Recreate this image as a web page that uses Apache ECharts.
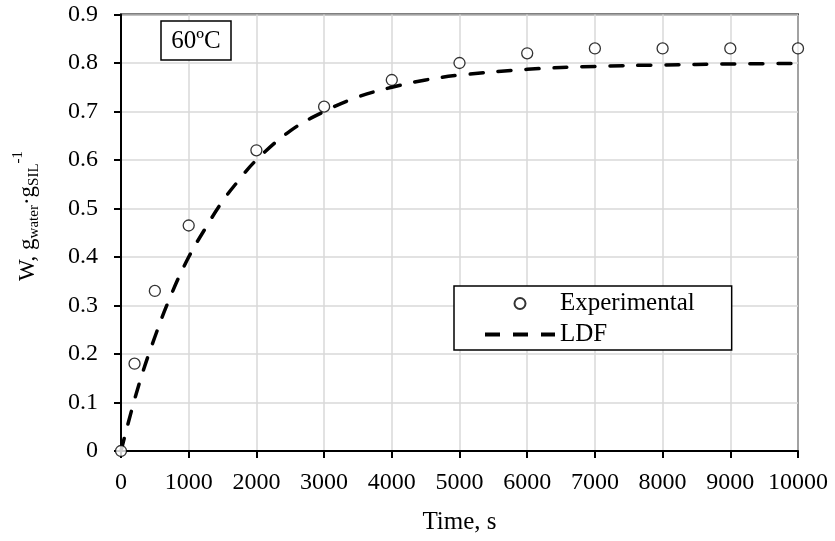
<!DOCTYPE html>
<html>
<head>
<meta charset="utf-8">
<script src="https://cdn.jsdelivr.net/npm/echarts@6/dist/echarts.min.js"></script>
<style>html,body{margin:0;padding:0;background:#fff}#c{width:835px;height:541px}</style>
</head>
<body>
<div id="c"></div>
<script>
// Experimental data
const expTime = [0, 200, 500, 1000, 2000, 3000, 4000, 5000, 6000, 7000, 8000, 9000, 10000];
const expW    = [0, 0.18, 0.33, 0.465, 0.62, 0.71, 0.765, 0.80, 0.82, 0.83, 0.83, 0.83, 0.83];
// LDF model curve
const ldfTime = [0, 250, 500, 750, 1000, 1250, 1500, 1750, 2000, 2500, 3000, 3500, 4000, 4500, 5000, 6000, 7000, 8000, 9000, 10000];
const ldfW    = [0, 0.13, 0.235, 0.325, 0.40, 0.46, 0.515, 0.56, 0.60, 0.66, 0.70, 0.73, 0.75, 0.765, 0.775, 0.787, 0.793, 0.796, 0.798, 0.799];
const xTicks = [0, 10000, 1000];
const yTicks = [0, 0.9, 0.1];
const seriesNames = ['Experimental', 'LDF'];
const tempLabel = '60ºC';

const FONT = '"Liberation Serif", "Times New Roman", serif';
const chart = echarts.init(document.getElementById('c'));

function measure(t, size) {
  const cv = document.createElement('canvas').getContext('2d');
  cv.font = size + 'px ' + FONT;
  return cv.measureText(t).width;
}
// y-axis title pieces
const parts = [
  {t: 'W, g', s: 23, dy: 0},
  {t: 'water', s: 15, dy: 6},
  {t: '·g', s: 23, dy: 0},
  {t: 'SIL', s: 15, dy: 6},
  {t: '-1', s: 15, dy: -10}
];
let off = 0;
const titleChildren = parts.map(p => {
  const el = {type: 'text', x: off, y: p.dy, style: {text: p.t, font: p.s + 'px ' + FONT, fill: '#000', textVerticalAlign: 'middle', verticalAlign: 'middle'}};
  off += measure(p.t, p.s);
  return el;
});

const option = {
  animation: false,
  backgroundColor: '#fff',
  grid: {left: 121, right: 37, top: 14.5, bottom: 90, show: true, borderColor: '#000', borderWidth: 2, backgroundColor: 'transparent'},
  xAxis: {
    type: 'value', min: xTicks[0], max: xTicks[1], interval: xTicks[2],
    name: 'Time, s', nameLocation: 'middle', nameGap: 59,
    nameTextStyle: {fontFamily: FONT, fontSize: 25, color: '#000'},
    axisLine: {show: true, onZero: false, lineStyle: {color: '#000', width: 2}},
    axisTick: {show: true, inside: false, length: 7, lineStyle: {color: '#000', width: 2}},
    axisLabel: {fontFamily: FONT, fontSize: 24, color: '#000', margin: 20, formatter: v => String(v)},
    splitLine: {show: true, lineStyle: {color: '#d9d9d9', width: 1.5}}
  },
  yAxis: {
    type: 'value', min: yTicks[0], max: yTicks[1], interval: yTicks[2],
    axisLine: {show: true, onZero: false, lineStyle: {color: '#000', width: 2}},
    axisTick: {show: true, inside: false, length: 7, lineStyle: {color: '#000', width: 2}},
    axisLabel: {fontFamily: FONT, fontSize: 24, color: '#000', margin: 23, formatter: v => String(+v.toFixed(1))},
    splitLine: {show: true, lineStyle: {color: '#d9d9d9', width: 1.5}}
  },
  legend: {
    left: 454, top: 286, orient: 'vertical', itemGap: 6,
    itemWidth: 70, itemHeight: 11,
    padding: [5, 37, 3, 29],
    borderColor: '#000', borderWidth: 1.5, backgroundColor: '#fff',
    textStyle: {fontFamily: FONT, fontSize: 25, color: '#000'},
    data: [
      {name: seriesNames[0]},
      {name: seriesNames[1], itemStyle: {opacity: 0}, lineStyle: {opacity: 1, type: [15, 13], width: 4, cap: 'butt'}}
    ]
  },
  series: [
    {
      name: seriesNames[1], type: 'line', data: ldfTime.map((t, i) => [t, ldfW[i]]),
      smooth: 0.4, showSymbol: false, symbol: 'none', z: 2,
      lineStyle: {color: '#000', width: 3.5, type: [13, 15], cap: 'round'},
      itemStyle: {color: '#000'}
    },
    {
      name: seriesNames[0], type: 'scatter', data: expTime.map((t, i) => [t, expW[i]]),
      symbol: 'circle', symbolSize: 11, z: 3,
      itemStyle: {color: '#fff', borderColor: '#000', borderWidth: 1.3}
    }
  ],
  graphic: [
    {type: 'group', x: 28, y: 281, rotation: Math.PI / 2, children: titleChildren},
    {type: 'rect', shape: {x: 161, y: 21, width: 70, height: 39}, style: {fill: '#fff', stroke: '#000', lineWidth: 1.5}, z: 10},
    {type: 'text', x: 196, y: 41, z: 11, style: {text: tempLabel, font: '25px ' + FONT, fill: '#000', align: 'center', verticalAlign: 'middle', textAlign: 'center', textVerticalAlign: 'middle'}}
  ]
};
chart.setOption(option);
</script>
</body>
</html>
